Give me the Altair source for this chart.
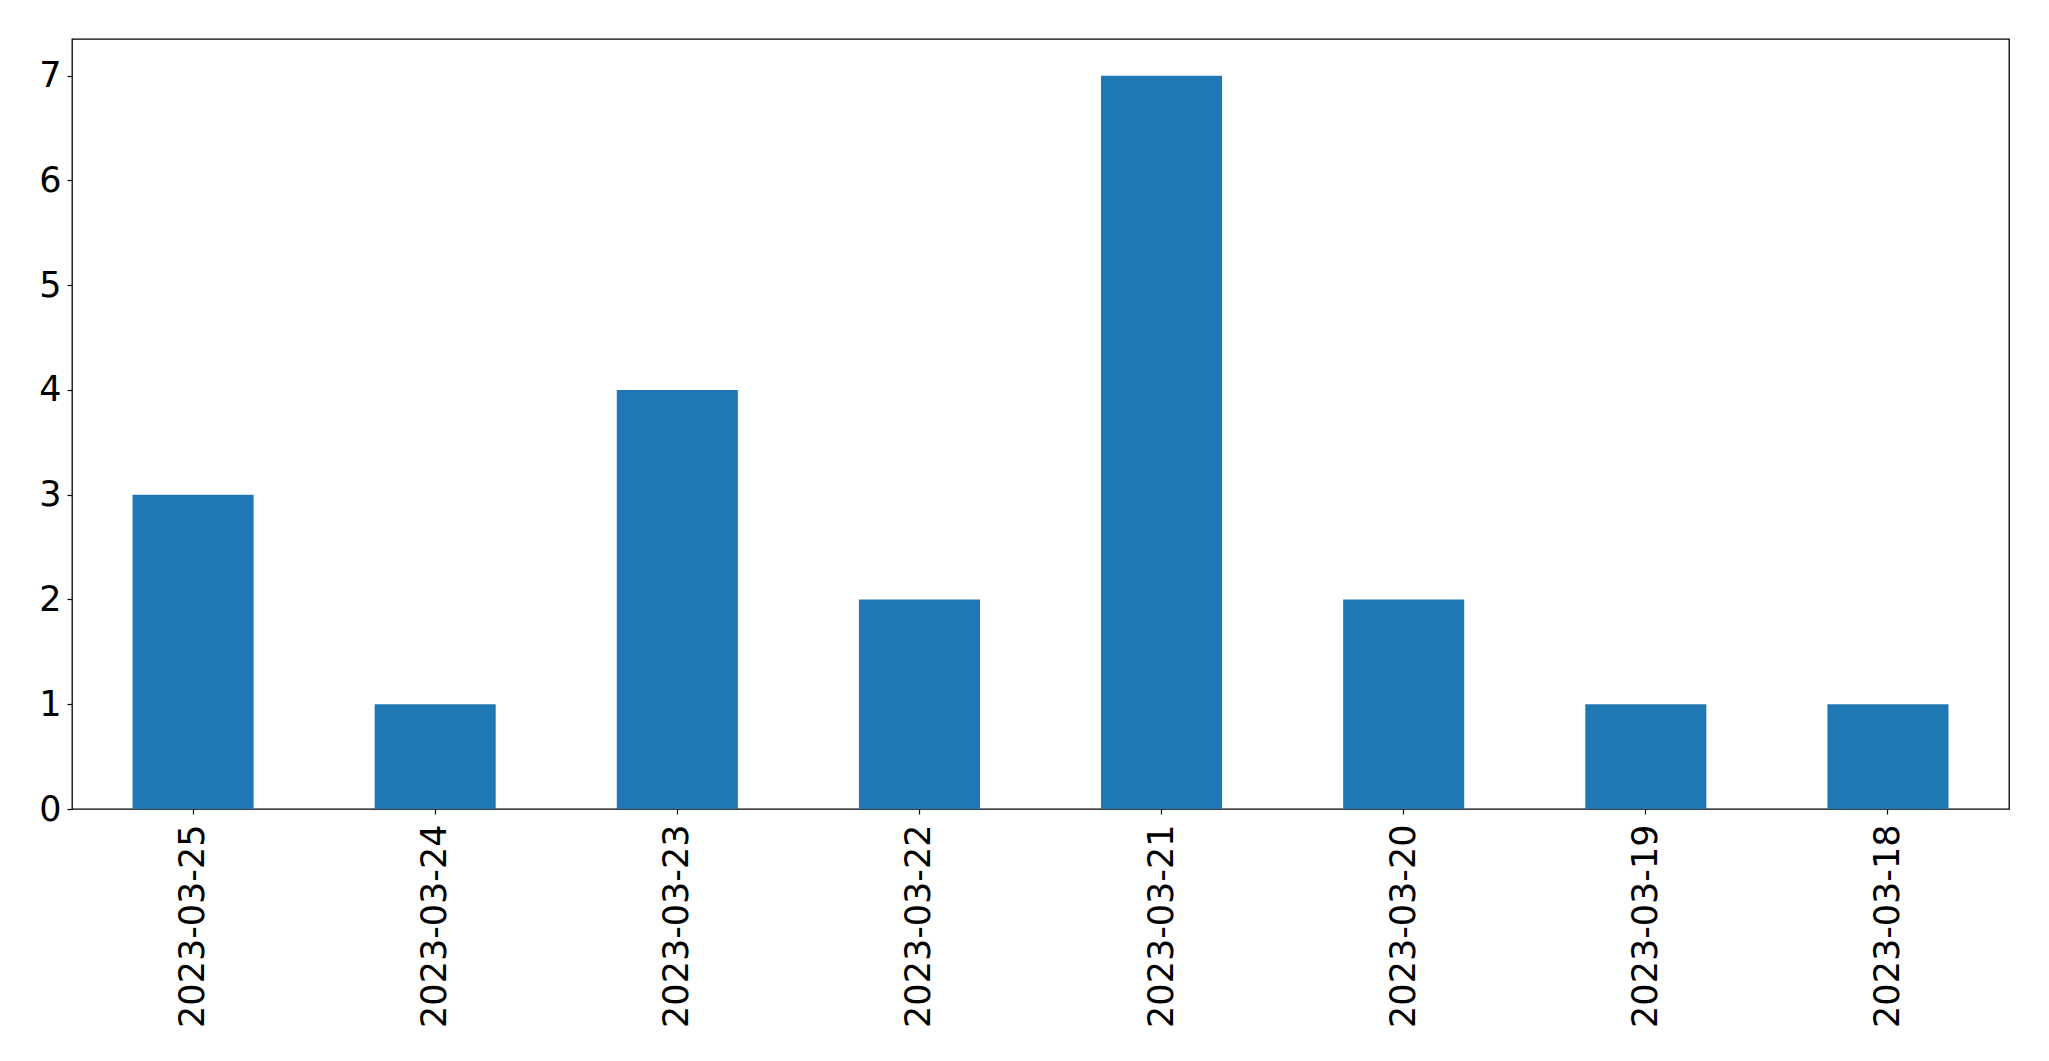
import altair as alt
import pandas as pd

dates = ["2023-03-25", "2023-03-24", "2023-03-23", "2023-03-22",
         "2023-03-21", "2023-03-20", "2023-03-19", "2023-03-18"]
counts = [3, 1, 4, 2, 7, 2, 1, 1]

df = pd.DataFrame({"date": dates, "count": counts})

FONT = "DejaVu Sans"
FS = 35

chart = alt.Chart(df).mark_bar(color="#1f77b4").encode(
    x=alt.X("date:N", sort=dates, title=None,
            scale=alt.Scale(paddingInner=0.5, paddingOuter=0.25),
            axis=alt.Axis(labelAngle=270, labelFontSize=FS, labelFont=FONT,
                          labelColor="black", tickColor="black", tickSize=5,
                          tickWidth=1.2, domain=False, labelPadding=10,
                          labelLimit=0, labelAlign="right",
                          labelBaseline="middle")),
    y=alt.Y("count:Q", title=None,
            scale=alt.Scale(domain=[0, 7.35], nice=False, zero=True),
            axis=alt.Axis(values=[0, 1, 2, 3, 4, 5, 6, 7], format="d",
                          grid=False, labelFontSize=FS, labelFont=FONT,
                          labelColor="black", tickColor="black", tickSize=5,
                          tickWidth=1.2, domain=False, labelPadding=6)),
).properties(
    width=1937,
    height=770,
    autosize=alt.AutoSizeParams(type="none"),
    padding={"left": 64, "top": 31, "right": 30, "bottom": 240},
    background="white",
).configure_view(
    stroke="black", strokeWidth=1.3
)

chart.save("out.html", embed_options={"renderer": "svg", "actions": False})
